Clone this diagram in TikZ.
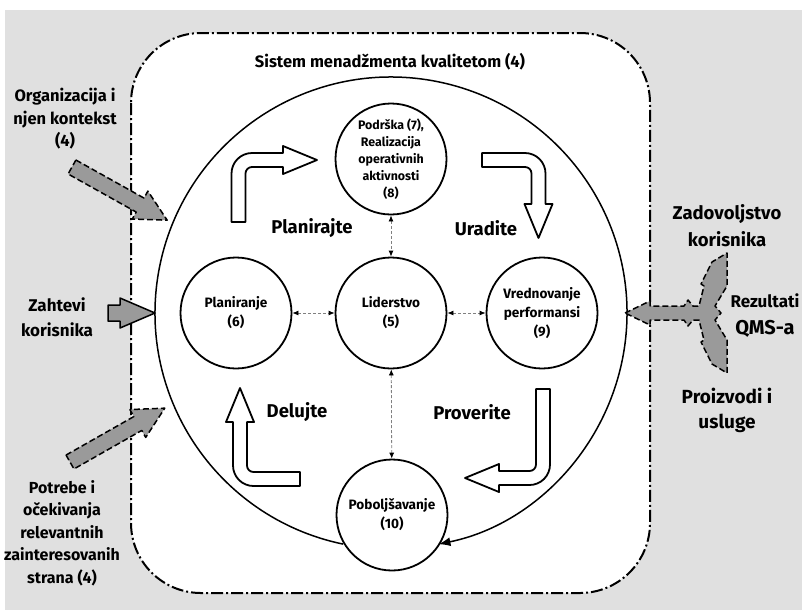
\documentclass[tikz,border=0pt]{standalone}
\usepackage{fontspec}
\setmainfont{Fira Sans}
\usetikzlibrary{arrows.meta}
\definecolor{panelgray}{RGB}{224,224,224}
\definecolor{flowgray}{RGB}{154,154,154}
\newcommand{\pdcaarrow}[2]{%
  \draw[cyclearrow] (-7,#1) -- (-7,13.5) .. controls (-7,2.2) and (2.2,-7) .. (13.5,-7)
    -- ({#2-34},-7) -- ({#2-34},-14) -- (#2,0) -- ({#2-34},14) -- ({#2-34},7) -- (13.5,7)
    .. controls (9.9,7) and (7,9.9) .. (7,13.5) -- (7,#1) -- cycle;}
\newcommand{\inputarrow}[1]{%
  \draw[flow,#1] (0,-8) -- (78,-8) -- (78,-16) -- (109,0) -- (78,16) -- (78,8) -- (0,8) -- cycle;}
\begin{document}
\begin{tikzpicture}[x=1pt,y=-1pt,
    stage/.style={draw,circle,fill=white,line width=1.8pt,minimum size=111pt,inner sep=0pt,
      align=center,font=\bfseries\fontsize{13.6}{19}\selectfont},
    link/.style={{Latex[length=6pt,width=5pt,color=black]}-{Latex[length=6pt,width=5pt,color=black]},
      draw=gray,dash pattern=on 3pt off 2pt,line width=0.8pt},
    cyclearrow/.style={draw,fill=white,line width=1.8pt,line join=round},
    flow/.style={draw,fill=flowgray,line width=1.5pt,line join=round},
    phase/.style={font=\bfseries\fontsize{18.5}{22}\selectfont},
    sidetext/.style={align=center,font=\bfseries\fontsize{16.5}{22.5}\selectfont}]
  \useasboundingbox (0,0) rectangle (802,614);
  \fill[white] (0,0) rectangle (802,614);
  \fill[panelgray] (5,10) rectangle (802,610);
  \draw[fill=white,line width=2pt,rounded corners=70pt,dash pattern=on 12pt off 3pt on 2pt off 3pt]
    (131,33) rectangle (650,593);
  \node[font=\bfseries\fontsize{16.5}{20}\selectfont] (title) at (390,62) {Sistem menadžmenta kvalitetom (4)};
  \draw[line width=1.5pt,-{Latex[length=12pt,width=9pt]}]
    (391,313) ++(101.7:236) arc[start angle=101.7,end angle=438.4,radius=236];
  \begin{scope}[shift={(72,167)},rotate=-29.2]
    \inputarrow{dash pattern=on 6pt off 3pt}
  \end{scope}
  \begin{scope}[shift={(70,462)},rotate=29.6]
    \inputarrow{dash pattern=on 6pt off 3pt}
  \end{scope}
  \draw[flow] (108,305) -- (120,305) -- (120,298) -- (155,313) -- (120,328) -- (120,321) -- (108,321) -- cycle;
  \draw[flow,dash pattern=on 6pt off 3pt] (625,313) -- (650,301) -- (650,306) -- (684,306) -- (688,300)
    -- (693,306) -- (699,306) -- (704,286) -- (701,284) -- (712,262) -- (727,253) -- (727,286)
    -- (715,306) -- (721,313) -- (715,320) -- (727,340) -- (727,373) -- (712,364) -- (701,342)
    -- (704,340) -- (699,320) -- (693,320) -- (688,326) -- (684,320) -- (650,320) -- (650,325) -- cycle;
  \node[stage] (lead) at (391,313) {Liderstvo\\(5)};
  \node[stage] (plan) at (236,313) {Planiranje\\(6)};
  \node[stage] (perf) at (542,313) {Vrednovanje\\performansi\\(9)};
  \node[stage,font=\bfseries\fontsize{12.4}{17}\selectfont] (supp) at (391,159)
    {Podrška (7),\\Realizacija\\operativnih\\aktivnosti\\(8)};
  \node[stage] (impr) at (392,515) {Poboljšavanje\\(10)};
  \draw[link] (plan) -- (lead);
  \draw[link] (lead) -- (perf);
  \draw[link] (supp) -- (lead);
  \draw[link] (lead) -- (impr);
  \begin{scope}[shift={(238.5,160)}]
    \pdcaarrow{62}{78.5}
  \end{scope}
  \begin{scope}[shift={(538.5,160)},rotate=-90]
    \pdcaarrow{56.5}{78}
  \end{scope}
  \begin{scope}[shift={(543,478)},rotate=-180]
    \pdcaarrow{89}{78}
  \end{scope}
  \begin{scope}[shift={(240,479)},rotate=90]
    \pdcaarrow{60}{91}
  \end{scope}
  \node[phase] (plantext) at (312,228) {Planirajte};
  \node[phase] (dotext) at (486,228) {Uradite};
  \node[phase] (acttext) at (297,412) {Delujte};
  \node[phase] (checktext) at (472,412) {Proverite};
  \node[sidetext] (orgtext) at (65,119) {Organizacija i\\njen kontekst\\(4)};
  \node[sidetext,font=\bfseries\fontsize{17}{25}\selectfont] (reqtext) at (57,317) {Zahtevi\\korisnika};
  \node[sidetext,font=\bfseries\fontsize{16}{22.5}\selectfont] (needtext) at (62,533)
    {Potrebe i\\očekivanja\\relevantnih\\zainteresovanih\\strana (4)};
  \node[sidetext,font=\bfseries\fontsize{18.5}{27}\selectfont] (sattext) at (727,226) {Zadovoljstvo\\korisnika};
  \node[sidetext,font=\bfseries\fontsize{20}{27}\selectfont] (restext) at (765,316)
    {{\fontsize{17}{20}\selectfont Rezultati}\\QMS-a};
  \node[sidetext,font=\bfseries\fontsize{19}{25}\selectfont] (prodtext) at (727,410) {Proizvodi i\\usluge};
\end{tikzpicture}
\end{document}
